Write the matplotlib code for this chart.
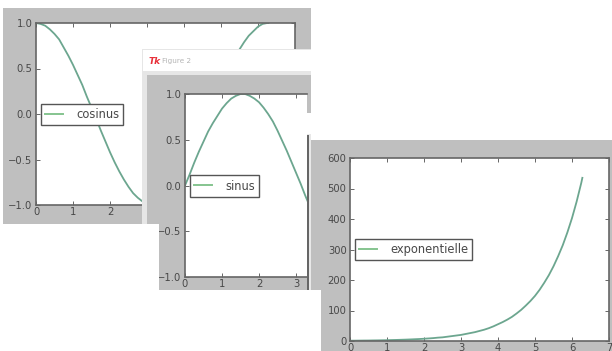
import matplotlib
matplotlib.use('Agg')
import matplotlib.pyplot as plt
from matplotlib.patches import Rectangle
from matplotlib.lines import Line2D

W = 612
H = 351

# values
x_values = [0, 0.125, 0.25, 0.375, 0.5, 0.625, 0.75, 0.875, 1, 1.125, 1.25, 1.375, 1.5, 1.625, 1.75, 1.875,
            2, 2.125, 2.25, 2.375, 2.5, 2.625, 2.75, 2.875, 3, 3.125, 3.25, 3.375, 3.5, 3.625, 3.75, 3.875,
            4, 4.125, 4.25, 4.375, 4.5, 4.625, 4.75, 4.875, 5, 5.125, 5.25, 5.375, 5.5, 5.625, 5.75, 5.875,
            6, 6.125, 6.25, 6.28]
cos_values = [1, 0.99, 0.97, 0.93, 0.88, 0.82, 0.73, 0.64, 0.54, 0.43, 0.32, 0.19, 0.07, -0.05, -0.18, -0.30,
              -0.42, -0.53, -0.63, -0.72, -0.80, -0.87, -0.92, -0.96, -0.99, -1, -1, -0.98, -0.94, -0.89, -0.82, -0.74,
              -0.65, -0.55, -0.45, -0.33, -0.21, -0.09, 0.04, 0.16, 0.28, 0.40, 0.51, 0.61, 0.71, 0.79, 0.86, 0.91,
              0.96, 0.99, 1, 1]
sin_values = [0, 0.12, 0.25, 0.37, 0.48, 0.59, 0.68, 0.76, 0.84, 0.90, 0.95, 0.98, 1, 1, 0.98, 0.95,
              0.91, 0.85, 0.78, 0.70, 0.60, 0.49, 0.38, 0.26, 0.14, 0.02, -0.11, -0.23, -0.35, -0.46, -0.57, -0.67,
              -0.76, -0.83, -0.89, -0.94, -0.98, -1, -1, -0.99, -0.96, -0.92, -0.86, -0.79, -0.71, -0.61, -0.51, -0.40,
              -0.28, -0.16, -0.03, 0]
exp_values = [1, 1.1, 1.3, 1.5, 1.6, 1.9, 2.1, 2.4, 2.7, 3.1, 3.5, 4, 4.5, 5.1, 5.8, 6.5,
              7.4, 8.4, 9.5, 11, 12, 14, 16, 18, 20, 23, 26, 29, 33, 37, 42, 48,
              55, 62, 70, 79, 90, 102, 116, 131, 148, 168, 191, 216, 245, 278, 314, 356,
              403, 457, 518, 535]

GREY = '#bfbfbf'
LINE = '#6ca68f'
LEG = '#85c48f'
TXT = '#484848'

fig = plt.figure(figsize=(W / 100, H / 100), dpi=100, facecolor='white')


def box(x0, y0, x1, y1, color, z):
    fig.add_artist(Rectangle((x0 / W, 1 - y1 / H), (x1 - x0) / W, (y1 - y0) / H, transform=fig.transFigure,
                             facecolor=color, edgecolor='none', zorder=z))


def panel(x0, y0, x1, y1, xmax, ylim, yticks, ylabels, y, label, leg_x, leg_y, z, closed=True):
    ax = fig.add_axes([x0 / W, 1 - y1 / H, (x1 - x0) / W, (y1 - y0) / H], zorder=z)
    ax.plot(x_values, y, color=LINE, lw=1.3)
    ax.set_xlim(0, xmax)
    ax.set_ylim(*ylim)
    ax.set_xticks(range(int(xmax) + 1))
    ax.set_yticks(yticks)
    ax.set_yticklabels(ylabels)
    ax.tick_params(direction='in', top=True, right=closed, length=3, width=0.7, color='#666666',
                   labelcolor=TXT, labelsize=7.2, pad=1.5)
    ax.tick_params(axis='y', pad=2.5)
    for s in ax.spines.values():
        s.set_color('#666666')
        s.set_linewidth(1.2)
    ax.spines['right'].set_visible(closed)
    handle = Line2D([], [], color=LEG, lw=1.4)
    leg = ax.legend([handle], [label], loc='center left', bbox_to_anchor=(leg_x / W, 1 - leg_y / H),
                    bbox_transform=fig.transFigure, borderaxespad=0, fancybox=False, framealpha=1,
                    fontsize=8.3, handlelength=1.6, handletextpad=1.1, labelcolor=TXT, borderpad=0.35)
    leg.get_frame().set_edgecolor('#555555')
    leg.get_frame().set_linewidth(1.0)
    return ax


trig_ticks = [-1, -0.5, 0, 0.5, 1]
trig_labels = ['\u22121.0', '\u22120.5', '0.0', '0.5', '1.0']
exp_ticks = [0, 100, 200, 300, 400, 500, 600]
exp_labels = ['0', '100', '200', '300', '400', '500', '600']

# figure 1
box(3, 8, 311, 224, GREY, 1)
panel(36, 23, 295, 205, 7, (-1, 1), trig_ticks, trig_labels, cos_values, 'cosinus', 41, 114.5, 2)

# figure 2 window, cut off by figure 3 on the right
box(142, 49, 311, 300, '#e6e6e6', 3)
box(143, 50, 311, 71, 'white', 3.1)
box(147, 75, 311, 300, GREY, 3.2)
panel(185, 94, 307, 277, 122 / 37, (-1, 1), trig_ticks, trig_labels, sin_values, 'sinus', 190, 186, 4, closed=False)
fig.text(149 / W, 1 - 61 / H, 'Tk', color='#e8303a', fontsize=6.5, fontweight='bold', style='italic',
         va='center', zorder=5)
fig.text(162 / W, 1 - 61 / H, 'Figure 2', color='#b5b5b5', fontsize=5.2, va='center', zorder=5)

# figure 3 window
box(307, 113, 311, 300, '#e8e8e8', 6)
box(307, 135, 308.5, 300, '#666666', 6.1)
box(307, 113, 311, 134, 'white', 6.2)
box(311, 140, 612, 351, GREY, 6.3)
panel(350, 158, 609, 341, 7, (0, 600), exp_ticks, exp_labels, exp_values, 'exponentielle', 355, 249.5, 7)

# white page over the lower left corner
box(0, 224, 159, 351, 'white', 8)
box(159, 290, 321, 351, 'white', 8)

fig.savefig('out.png', dpi=100, facecolor='white')
